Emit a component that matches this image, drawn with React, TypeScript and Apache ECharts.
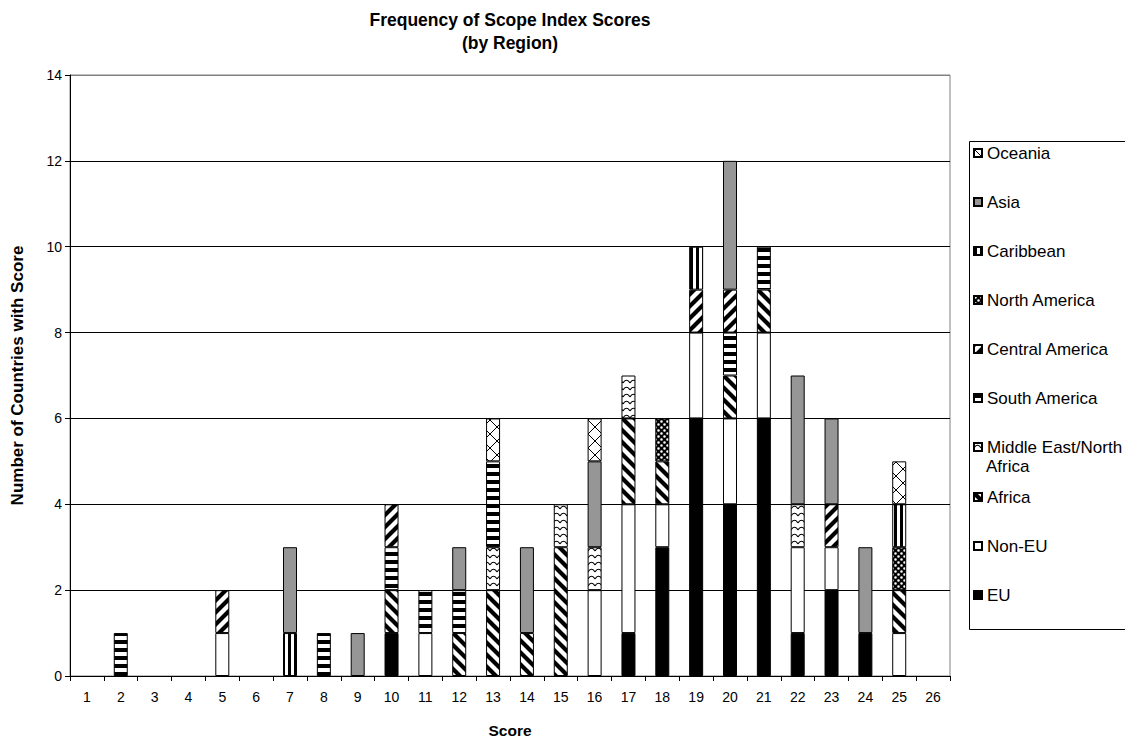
import React, { useEffect, useRef } from 'react';
import * as echarts from 'echarts';

const scores = ['1','2','3','4','5','6','7','8','9','10','11','12','13','14','15','16','17','18','19','20','21','22','23','24','25','26'];
const yTicks = [0, 2, 4, 6, 8, 10, 12, 14];

const seriesNames = ['EU','Non-EU','Africa','Middle East/North Africa','South America','Central America','North America','Caribbean','Asia','Oceania'];

const eu =        [0,0,0,0,0,0,0,0,0,1,0,0,0,0,0,0,1,3,6,4,6,1,2,1,0,0];
const nonEu =     [0,0,0,0,1,0,0,0,0,0,1,0,0,0,0,2,3,1,2,2,2,2,1,0,1,0];
const africa =    [0,0,0,0,0,0,0,0,0,1,0,1,2,1,3,0,2,1,0,1,1,0,0,0,1,0];
const mena =      [0,0,0,0,0,0,0,0,0,0,0,0,1,0,1,1,1,0,0,0,0,1,0,0,0,0];
const southAm =   [0,1,0,0,0,0,0,1,0,1,1,1,2,0,0,0,0,0,0,1,1,0,0,0,0,0];
const centralAm = [0,0,0,0,1,0,0,0,0,1,0,0,0,0,0,0,0,0,1,1,0,0,1,0,0,0];
const northAm =   [0,0,0,0,0,0,0,0,0,0,0,0,0,0,0,0,0,1,0,0,0,0,0,0,1,0];
const caribbean = [0,0,0,0,0,0,1,0,0,0,0,0,0,0,0,0,0,0,1,0,0,0,0,0,1,0];
const asia =      [0,0,0,0,0,0,2,0,1,0,0,1,0,2,0,2,0,0,0,3,0,3,2,2,0,0];
const oceania =   [0,0,0,0,0,0,0,0,0,0,0,0,1,0,0,1,0,0,0,0,0,0,0,0,1,0];

const seriesData = [eu, nonEu, africa, mena, southAm, centralAm, northAm, caribbean, asia, oceania];

const FONT = '"Liberation Sans", Arial, Helvetica, sans-serif';

type Draw = (ctx: CanvasRenderingContext2D, w: number, h: number) => void;

function makePattern(w: number, h: number, draw: Draw): any {
  const c = document.createElement('canvas');
  c.width = w;
  c.height = h;
  const ctx = c.getContext('2d') as CanvasRenderingContext2D;
  ctx.fillStyle = '#ffffff';
  ctx.fillRect(0, 0, w, h);
  draw(ctx, w, h);
  return { image: c.toDataURL(), repeat: 'repeat', imageWidth: w, imageHeight: h };
}

function buildFills(): any[] {
  const downDiag = makePattern(12, 12, (ctx, w) => {
    ctx.strokeStyle = '#000';
    ctx.lineWidth = 4.2;
    ctx.beginPath();
    for (const k of [-1, 0, 1]) {
      ctx.moveTo(k * w - 2, -2);
      ctx.lineTo(k * w + w + 2, w + 2);
    }
    ctx.stroke();
  });
  const upDiag = makePattern(12, 12, (ctx, w) => {
    ctx.strokeStyle = '#000';
    ctx.lineWidth = 4.2;
    ctx.beginPath();
    for (const k of [-1, 0, 1]) {
      ctx.moveTo(k * w + w + 2, -2);
      ctx.lineTo(k * w - 2, w + 2);
    }
    ctx.stroke();
  });
  const horiz = makePattern(4, 8, (ctx) => {
    ctx.fillStyle = '#000';
    ctx.fillRect(0, 0, 4, 4);
  });
  const vert = makePattern(6, 4, (ctx) => {
    ctx.fillStyle = '#000';
    ctx.fillRect(0, 0, 3, 4);
  });
  const checker = makePattern(6, 6, (ctx) => {
    ctx.fillStyle = '#000';
    ctx.fillRect(0, 0, 6, 6);
    ctx.fillStyle = '#fff';
    ctx.beginPath();
    ctx.arc(1.5, 1.5, 1.3, 0, Math.PI * 2);
    ctx.arc(4.5, 4.5, 1.3, 0, Math.PI * 2);
    ctx.fill();
  });
  const wave = makePattern(7, 7, (ctx) => {
    ctx.strokeStyle = '#000';
    ctx.lineWidth = 1.1;
    ctx.beginPath();
    ctx.moveTo(0, 5);
    ctx.quadraticCurveTo(3.5, -0.5, 7, 5);
    ctx.stroke();
  });
  const cross = makePattern(14, 14, (ctx, w) => {
    ctx.strokeStyle = '#000';
    ctx.lineWidth = 1;
    ctx.beginPath();
    ctx.moveTo(0, 0);
    ctx.lineTo(w, w);
    ctx.moveTo(w, 0);
    ctx.lineTo(0, w);
    ctx.stroke();
  });
  return ['#000000', '#ffffff', downDiag, wave, horiz, upDiag, checker, vert, '#969696', cross];
}

// legend row centres (layout only), top to bottom: Oceania ... EU
const legendRowCenters = [595, 546, 497, 447, 398, 349, 300, 251, 202, 153];

export default function App() {
  const ref = useRef<HTMLDivElement>(null);

  useEffect(() => {
    document.body.style.margin = '0';
    document.body.style.overflow = 'hidden';
    if (!ref.current) return;
    const chart = echarts.init(ref.current, undefined, { renderer: 'svg' });
    const fills = buildFills();

    const splitColors = yTicks.map((t) => (t === yTicks[yTicks.length - 1] ? '#808080' : '#000000'));

    const option: any = {
      animation: false,
      backgroundColor: '#ffffff',
      textStyle: { fontFamily: FONT },
      grid: {
        left: 70,
        right: 175,
        top: 75,
        bottom: 66,
        show: true,
        borderColor: '#808080',
        borderWidth: 1,
        backgroundColor: 'transparent',
      },
      xAxis: {
        type: 'category',
        data: scores,
        boundaryGap: true,
        name: 'Score',
        nameLocation: 'middle',
        nameGap: 46,
        nameTextStyle: { fontSize: 15.5, fontWeight: 'bold', color: '#000', fontFamily: FONT },
        axisLine: { lineStyle: { color: '#000', width: 1 } },
        axisTick: { show: true, length: 5, inside: false, interval: 0, lineStyle: { color: '#000' } },
        axisLabel: { interval: 0, fontSize: 14, color: '#000', margin: 14, fontFamily: FONT },
        splitLine: { show: false },
      },
      yAxis: {
        type: 'value',
        min: 0,
        max: 14,
        interval: 2,
        name: 'Number of Countries with Score',
        nameLocation: 'middle',
        nameGap: 44,
        nameTextStyle: { fontSize: 17, fontWeight: 'bold', color: '#000', fontFamily: FONT },
        axisLine: { show: true, lineStyle: { color: '#000', width: 1 } },
        axisTick: { show: true, length: 5, inside: false, lineStyle: { color: '#000' } },
        axisLabel: { fontSize: 14, color: '#000', margin: 8, fontFamily: FONT },
        splitLine: { show: true, lineStyle: { color: splitColors, width: 1 } },
      },
      legend: seriesNames.map((name, i) => ({
        data: [name],
        left: 973,
        top: legendRowCenters[i] - 10,
        orient: 'vertical',
        icon: 'rect',
        itemWidth: 8,
        itemHeight: 8,
        itemGap: 0,
        padding: 0,
        selectedMode: false,
        formatter: (n: string) => (n === 'Middle East/North Africa' ? 'Middle East/North' : n),
        textStyle: { fontSize: 17, lineHeight: 20, color: '#000', fontFamily: FONT },
      })),
      graphic: [
        {
          type: 'rect',
          left: 967,
          top: 139,
          shape: { width: 200, height: 488 },
          style: { fill: 'none', stroke: '#000', lineWidth: 1 },
          silent: true,
          z: -1,
        },
        {
          type: 'text',
          x: 986,
          y: 466,
          style: { text: 'Africa', font: `17px ${FONT}`, fill: '#000', verticalAlign: 'middle' },
        },
        {
          type: 'text',
          x: 510,
          y: 20,
          style: {
            text: 'Frequency of Scope Index Scores',
            font: `bold 17.5px ${FONT}`,
            fill: '#000',
            align: 'center',
            verticalAlign: 'middle',
          },
        },
        {
          type: 'text',
          x: 510,
          y: 43,
          style: {
            text: '(by Region)',
            font: `bold 17.5px ${FONT}`,
            fill: '#000',
            align: 'center',
            verticalAlign: 'middle',
          },
        },
      ],
      series: seriesNames.map((name, i) => ({
        name,
        type: 'bar',
        stack: 'total',
        barWidth: 14,
        data: seriesData[i].map((v) => (v === 0 ? null : v)),
        itemStyle: { color: fills[i], borderColor: '#000', borderWidth: 1 },
        emphasis: { disabled: true },
      })),
    };

    chart.setOption(option);
    return () => chart.dispose();
  }, []);

  return <div ref={ref} style={{ width: 1125, height: 743 }} />;
}
